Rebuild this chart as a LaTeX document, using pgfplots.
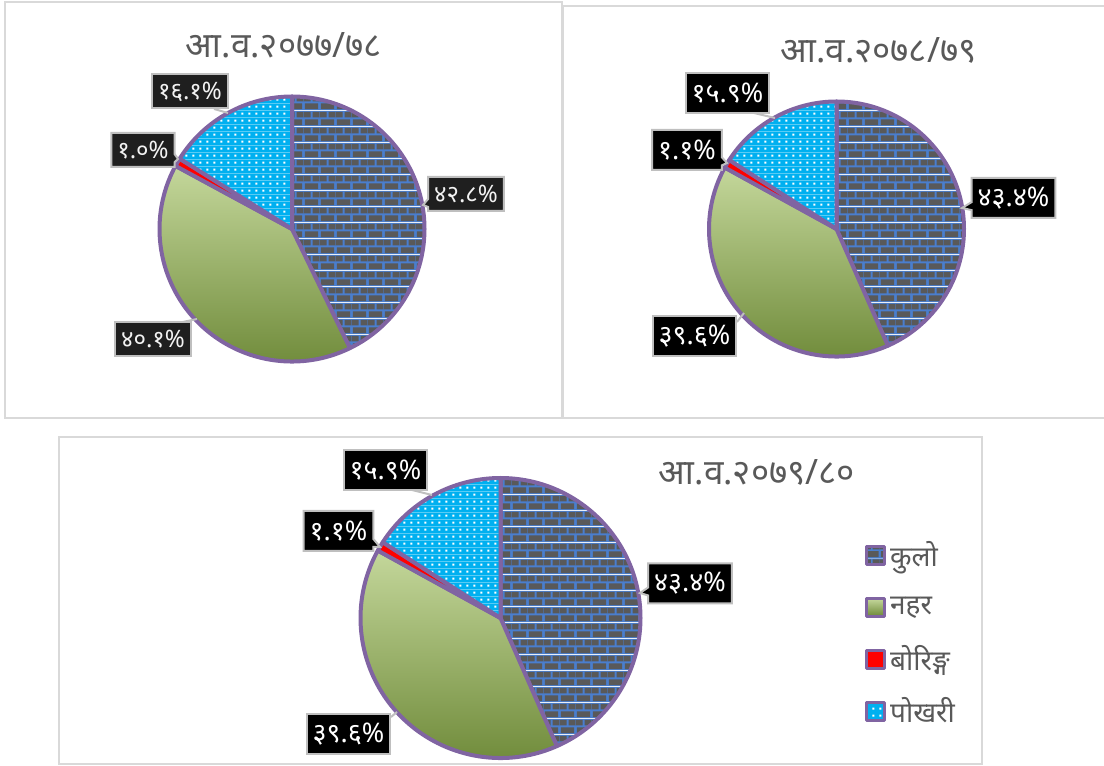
\documentclass[border=0pt]{standalone}
\usepackage{fontspec}
\usepackage{pgfplots}
\pgfplotsset{compat=1.18}
\usetikzlibrary{patterns,shapes.callouts}
\newfontfamily\dev[Script=Devanagari]{Noto Sans}

\definecolor{kulogray}{RGB}{89,89,89}
\definecolor{kuloblue}{RGB}{74,126,205}
\definecolor{nahartop}{RGB}{196,215,155}
\definecolor{naharbot}{RGB}{106,134,52}
\definecolor{pokcyan}{RGB}{0,176,240}
\definecolor{edgepurple}{RGB}{128,100,162}
\definecolor{txtgray}{RGB}{89,89,89}
\definecolor{boxline}{RGB}{191,191,191}
\definecolor{panelline}{RGB}{217,217,217}

% brick fill for kulo
\pgfdeclarepatterninherentlycolored{kulobricks}
  {\pgfpointorigin}{\pgfpoint{8pt}{8pt}}{\pgfpoint{8pt}{8pt}}
  {\pgfsetfillcolor{kuloblue}
   \pgfpathrectangle{\pgfpointorigin}{\pgfpoint{8pt}{8pt}}\pgfusepath{fill}
   \pgfsetfillcolor{kulogray}
   \pgfpathrectangle{\pgfpoint{0.5pt}{0.5pt}}{\pgfpoint{7pt}{3pt}}
   \pgfpathrectangle{\pgfpoint{0pt}{4.5pt}}{\pgfpoint{3.5pt}{3pt}}
   \pgfpathrectangle{\pgfpoint{4.5pt}{4.5pt}}{\pgfpoint{3.5pt}{3pt}}
   \pgfusepath{fill}}
% dotted fill for pokhari
\pgfdeclarepatterninherentlycolored{pokdots}
  {\pgfpointorigin}{\pgfpoint{3.4pt}{3.4pt}}{\pgfpoint{3.4pt}{3.4pt}}
  {\pgfsetfillcolor{pokcyan}
   \pgfpathrectangle{\pgfpointorigin}{\pgfpoint{3.4pt}{3.4pt}}\pgfusepath{fill}
   \pgfsetfillcolor{white}
   \pgfpathrectangle{\pgfpoint{1.2pt}{1.2pt}}{\pgfpoint{1pt}{1pt}}\pgfusepath{fill}}

\tikzset{
  kulo/.style={pattern=kulobricks, draw=edgepurple, line width=2pt},
  nahar/.style={top color=nahartop, bottom color=naharbot, draw=edgepurple, line width=2pt},
  boring/.style={fill=red, draw=edgepurple, line width=2pt},
  pokhari/.style={pattern=pokdots, draw=edgepurple, line width=2pt},
  ttl/.style={font=\dev\fontsize{17.5}{20}\selectfont, text=txtgray},
  lbl/.style={fill=black, draw=boxline, line width=1pt, text=white, inner xsep=3pt,
    inner ysep=0pt, minimum height=20pt, font=\dev\fontsize{13.5}{15}\selectfont},
  lbl1/.style={lbl, fill=black!88, text=black!5, minimum height=17pt,
    font=\dev\fontsize{12}{14}\selectfont},
  co/.style={rectangle callout, callout pointer width=4pt, callout absolute pointer={#1}},
  ldr/.style={draw=boxline, line width=1pt},
}

\pgfplotsset{
  panel/.style={x=0.5pt, y=0.5pt, anchor=south west, scale only axis,
    xtick=\empty, ytick=\empty, clip=false,
    axis line style={draw=panelline, line width=1pt}},
}

% one pie slice: style, centre x, centre y, radius, percent (clockwise from 90 deg)
\newcommand\slice[5]{%
  \pgfmathsetmacro\da{-3.6*#5}%
  \pgfmathsetmacro\rr{#4*0.5}%
  \edef\doslice{\noexpand\addplot[#1, line join=round] coordinates {(#2,#3)}
    -- ([shift={(\curang:\rr pt)}]axis cs:#2,#3)
    arc[start angle=\curang, delta angle=\da, radius=\rr pt] -- cycle;}%
  \doslice
  \pgfmathsetmacro\newang{\curang+\da}%
  \global\let\curang\newang}

\begin{document}
\begin{tikzpicture}
\useasboundingbox (0,0) rectangle (552pt,383pt);

% ---- 2077/78
\begin{axis}[panel, xmin=5, xmax=562, ymin=348, ymax=764, at={(2.5pt,174pt)}]
\gdef\curang{90}
\slice{kulo}{292}{537}{132.5}{42.8}
\slice{nahar}{292}{537}{132.5}{40.1}
\slice{boring}{292}{537}{132.5}{1.0}
\slice{pokhari}{292}{537}{132.5}{16.1}
\node[ttl] at (axis cs:284,721) {आ.व.२०७७/७८};
\draw[ldr] (axis cs:214,657) -- (axis cs:228,653);
\draw[ldr] (axis cs:178,443) -- (axis cs:197,447);
\node[lbl1] at (axis cs:190,674.5) {१६.१\%};
\node[lbl1, co={(axis cs:178,607)}] at (axis cs:143,616) {१.०\%};
\node[lbl1, co={(axis cs:423,561)}] at (axis cs:466,572) {४२.८\%};
\node[lbl1] at (axis cs:153,426.5) {४०.१\%};
\end{axis}

% ---- 2078/79
\begin{axis}[panel, xmin=563, xmax=1110, ymin=348, ymax=760, at={(281.5pt,174pt)}]
\gdef\curang{90}
\slice{kulo}{836.5}{537}{127.5}{43.4}
\slice{nahar}{836.5}{537}{127.5}{39.6}
\slice{boring}{836.5}{537}{127.5}{1.1}
\slice{pokhari}{836.5}{537}{127.5}{15.9}
\node[ttl] at (axis cs:878.5,716) {आ.व.२०७८/७९};
\draw[ldr] (axis cs:754,653) -- (axis cs:775,648);
\draw[ldr] (axis cs:737,444) -- (axis cs:744,453);
\node[lbl] at (axis cs:727.5,672.5) {१५.९\%};
\node[lbl, co={(axis cs:727,603)}] at (axis cs:687,616) {१.१\%};
\node[lbl, co={(axis cs:962,558)}] at (axis cs:1013.5,568) {४३.४\%};
\node[lbl] at (axis cs:694.5,429.5) {३९.६\%};
\end{axis}

% ---- 2079/80
\begin{axis}[panel, xmin=59, xmax=982, ymin=2, ymax=329, at={(29.5pt,1pt)},
  legend image code/.code={\draw[#1, line width=1.5pt] (0pt,-4.5pt) rectangle (9pt,4.5pt);},
  legend cell align=left,
  legend style={draw=none, fill=none, at={(0.873,0.7175)}, anchor=north west,
    inner sep=0pt, row sep=0pt, nodes={minimum height=26pt, inner ysep=0pt},
    font=\dev\fontsize{14}{16}\selectfont, text=txtgray}]
\gdef\curang{90}
\slice{kulo}{500.5}{148}{140}{43.4}
\addlegendentry{कुलो}
\slice{nahar}{500.5}{148}{140}{39.6}
\addlegendentry{नहर}
\slice{boring}{500.5}{148}{140}{1.1}
\addlegendentry{बोरिङ्ग}
\slice{pokhari}{500.5}{148}{140}{15.9}
\addlegendentry{पोखरी}
\node[ttl] at (axis cs:757,294) {आ.व.२०७९/८०};
\draw[ldr] (axis cs:412,276) -- (axis cs:432,271);
\draw[ldr] (axis cs:391,49) -- (axis cs:397,54);
\node[lbl] at (axis cs:385.5,296) {१५.९\%};
\node[lbl, co={(axis cs:380,219)}] at (axis cs:338.5,235) {१.१\%};
\node[lbl, co={(axis cs:640,173)}] at (axis cs:690,182.5) {४३.४\%};
\node[lbl] at (axis cs:348.5,31.5) {३९.६\%};
\end{axis}
\end{tikzpicture}
\end{document}
